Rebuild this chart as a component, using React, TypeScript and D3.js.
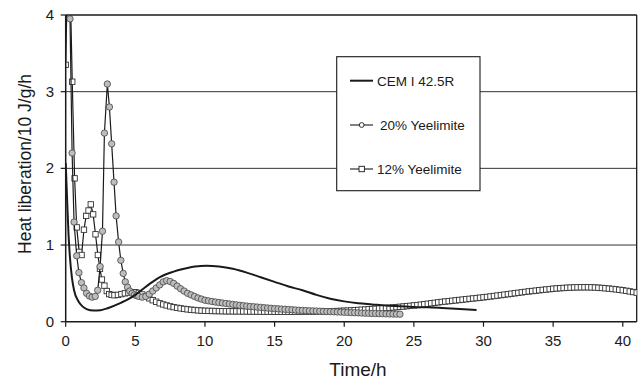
import React from 'react';
import * as d3 from 'd3';

// [time (h), heat (10 J/g/h)]
const cemData: [number, number][] = [
  [0, 2.07], [0.1, 1.6], [0.2, 1.15], [0.3, 0.85], [0.45, 0.57], [0.6, 0.41], [0.9, 0.27],
  [1.2, 0.2], [1.5, 0.165], [2.0, 0.145], [2.5, 0.15], [3.0, 0.175], [3.5, 0.21], [4.0, 0.25],
  [4.5, 0.295], [5.0, 0.35], [5.5, 0.42], [6.0, 0.49], [6.8, 0.585], [7.7, 0.65], [8.5, 0.69],
  [9.3, 0.72], [10.1, 0.73], [11, 0.72], [12, 0.69], [13, 0.64], [14, 0.58], [15, 0.52],
  [16, 0.46], [17, 0.41], [18, 0.35], [19, 0.3], [20, 0.265], [21, 0.24], [22, 0.225],
  [23, 0.21], [24, 0.2], [25.5, 0.19], [27, 0.18], [28, 0.17], [29.5, 0.152],
];

const yee20Data: [number, number][] = [
  [0.15, 4.8], [0.31, 3.95], [0.46, 2.2], [0.6, 1.3], [0.79, 0.86], [0.95, 0.64], [1.13, 0.51],
  [1.31, 0.44], [1.5, 0.37], [1.7, 0.335], [1.9, 0.32], [2.12, 0.33], [2.3, 0.41], [2.47, 0.72],
  [2.64, 1.18], [2.78, 2.46], [2.99, 3.1], [3.14, 2.8], [3.3, 2.32], [3.47, 1.82], [3.62, 1.38],
  [3.8, 1.04], [3.96, 0.8], [4.13, 0.63], [4.28, 0.52], [4.44, 0.45], [4.6, 0.4], [4.77, 0.37],
  [4.93, 0.35], [5.1, 0.34], [5.25, 0.33], [5.5, 0.32], [5.75, 0.33], [6, 0.36], [6.25, 0.4],
  [6.5, 0.44], [6.75, 0.48], [7, 0.52], [7.25, 0.535], [7.5, 0.525], [7.75, 0.5], [8, 0.465],
  [8.25, 0.43], [8.5, 0.4], [8.75, 0.37], [9, 0.35], [9.25, 0.33], [9.5, 0.31], [9.75, 0.295],
  [10, 0.28], [10.25, 0.272], [10.5, 0.264], [10.75, 0.257], [11, 0.25], [11.25, 0.244],
  [11.5, 0.238], [11.75, 0.232], [12, 0.226], [12.25, 0.22], [12.5, 0.214], [12.75, 0.209],
  [13, 0.204], [13.25, 0.199], [13.5, 0.195], [13.75, 0.191], [14, 0.187], [14.25, 0.183],
  [14.5, 0.179], [14.75, 0.175], [15, 0.171], [15.25, 0.168], [15.5, 0.165], [15.75, 0.162],
  [16, 0.159], [16.25, 0.156], [16.5, 0.153], [16.75, 0.15], [17, 0.147], [17.25, 0.145],
  [17.5, 0.143], [17.75, 0.141], [18, 0.139], [18.25, 0.137], [18.5, 0.135], [18.75, 0.133],
  [19, 0.131], [19.25, 0.129], [19.5, 0.127], [19.75, 0.125], [20, 0.123], [20.25, 0.121],
  [20.5, 0.119], [20.75, 0.117], [21, 0.115], [21.25, 0.113], [21.5, 0.111], [21.75, 0.11],
  [22, 0.108], [22.25, 0.107], [22.5, 0.105], [22.75, 0.104], [23, 0.102], [23.25, 0.101],
  [23.5, 0.1], [23.75, 0.099], [24, 0.098],
];

const yee12Data: [number, number][] = [
  [0, 3.35], [0.16, 4.8], [0.31, 4.5], [0.47, 3.13], [0.64, 1.87], [0.79, 1.23], [0.97, 0.91],
  [1.14, 0.87], [1.31, 1.2], [1.47, 1.38], [1.64, 1.45], [1.8, 1.53], [1.97, 1.4], [2.14, 1.14],
  [2.31, 0.87], [2.46, 0.69], [2.6, 0.55], [2.78, 0.47], [2.95, 0.4], [3.12, 0.36], [3.3, 0.35],
  [3.5, 0.345], [3.75, 0.35], [4, 0.36], [4.25, 0.37], [4.5, 0.38], [4.75, 0.385], [5, 0.385],
  [5.25, 0.375], [5.5, 0.355], [5.75, 0.33], [6, 0.305], [6.25, 0.28], [6.5, 0.26], [6.75, 0.24],
  [7, 0.225], [7.25, 0.212], [7.5, 0.2], [7.75, 0.19], [8, 0.181], [8.25, 0.174], [8.5, 0.167],
  [8.75, 0.161], [9, 0.156], [9.25, 0.152], [9.5, 0.148], [9.75, 0.145], [10, 0.142],
  [10.25, 0.141], [10.5, 0.14], [10.75, 0.139], [11, 0.138], [11.25, 0.137], [11.5, 0.136],
  [11.75, 0.136], [12, 0.135], [12.25, 0.135], [12.5, 0.134], [12.75, 0.134], [13, 0.133],
  [13.25, 0.133], [13.5, 0.132], [13.75, 0.132], [14, 0.132], [14.25, 0.131], [14.5, 0.131],
  [14.75, 0.131], [15, 0.13], [15.25, 0.13], [15.5, 0.13], [15.75, 0.13], [16, 0.13],
  [16.25, 0.13], [16.5, 0.131], [16.75, 0.131], [17, 0.131], [17.25, 0.132], [17.5, 0.132],
  [17.75, 0.133], [18, 0.133], [18.25, 0.134], [18.5, 0.135], [18.75, 0.136], [19, 0.137],
  [19.25, 0.138], [19.5, 0.139], [19.75, 0.141], [20, 0.143], [20.25, 0.145], [20.5, 0.147],
  [20.75, 0.15], [21, 0.153], [21.25, 0.156], [21.5, 0.159], [21.75, 0.162], [22, 0.165],
  [22.25, 0.168], [22.5, 0.171], [22.75, 0.175], [23, 0.178], [23.25, 0.182], [23.5, 0.186],
  [23.75, 0.19], [24, 0.194], [24.25, 0.198], [24.5, 0.203], [24.75, 0.207], [25, 0.212],
  [25.25, 0.217], [25.5, 0.222], [25.75, 0.228], [26, 0.234], [26.25, 0.24], [26.5, 0.246],
  [26.75, 0.252], [27, 0.258], [27.25, 0.263], [27.5, 0.268], [27.75, 0.273], [28, 0.278],
  [28.25, 0.283], [28.5, 0.288], [28.75, 0.293], [29, 0.298], [29.25, 0.303], [29.5, 0.308],
  [29.75, 0.313], [30, 0.318], [30.25, 0.323], [30.5, 0.329], [30.75, 0.335], [31, 0.341],
  [31.25, 0.347], [31.5, 0.353], [31.75, 0.359], [32, 0.365], [32.25, 0.371], [32.5, 0.377],
  [32.75, 0.383], [33, 0.389], [33.25, 0.395], [33.5, 0.4], [33.75, 0.405], [34, 0.41],
  [34.25, 0.415], [34.5, 0.42], [34.75, 0.425], [35, 0.43], [35.25, 0.434], [35.5, 0.437],
  [35.75, 0.44], [36, 0.443], [36.25, 0.445], [36.5, 0.447], [36.75, 0.448], [37, 0.449],
  [37.25, 0.449], [37.5, 0.449], [37.75, 0.448], [38, 0.446], [38.25, 0.443], [38.5, 0.44],
  [38.75, 0.436], [39, 0.432], [39.25, 0.427], [39.5, 0.422], [39.75, 0.416], [40, 0.41],
  [40.25, 0.403], [40.5, 0.395], [40.75, 0.387], [41, 0.379],
];

const xTicks = [0, 5, 10, 15, 20, 25, 30, 35, 40];
const yTicks = [0, 1, 2, 3, 4];
const gridValues = [1, 2, 3];
const legendLabels = ['CEM I 42.5R', '20% Yeelimite', '12% Yeelimite'];

const W = 642;
const H = 380;
const FONT = '"Liberation Sans", Arial, sans-serif';
const INK = '#1a1a1a';

export default function App() {
  const x = d3.scaleLinear().domain([0, 41]).range([65.7, 636.7]);
  const y = d3.scaleLinear().domain([0, 4]).range([321.7, 15]);
  const [x0, x1] = x.range();
  const [y0, y1] = y.range();

  const line = d3
    .line<[number, number]>()
    .x(d => x(d[0]))
    .y(d => y(d[1]));
  const smooth = line.curve(d3.curveMonotoneX);
  const cemPath = smooth(cemData) || '';
  const straight = d3
    .line<[number, number]>()
    .x(d => x(d[0]))
    .y(d => y(d[1]));

  const sq = 5.4;

  return (
    <svg width={W} height={H} style={{ position: 'absolute', left: 0, top: 0, background: '#fff' }}>
      <defs>
        <clipPath id="plot">
          <rect x={x0} y={y1} width={x1 - x0} height={y0 - y1} />
        </clipPath>
      </defs>

      {/* gridlines */}
      {gridValues.map(v => (
        <line key={v} x1={x0} x2={x1} y1={y(v)} y2={y(v)} stroke="#333" strokeWidth={1} />
      ))}

      {/* frame */}
      <line x1={x0} x2={x1} y1={y1} y2={y1} stroke={INK} strokeWidth={1.6} />
      <line x1={x1} x2={x1} y1={y1} y2={y0} stroke={INK} strokeWidth={1.3} />

      {/* series */}
      <g clipPath="url(#plot)">
        <path d={straight(yee12Data) || ''} fill="none" stroke={INK} strokeWidth={1.2} />
        {yee12Data.map((d, i) => (
          <rect
            key={i}
            x={x(d[0]) - sq / 2}
            y={y(d[1]) - sq / 2}
            width={sq}
            height={sq}
            fill="#fff"
            stroke="#333"
            strokeWidth={0.9}
          />
        ))}
        <path d={straight(yee20Data) || ''} fill="none" stroke={INK} strokeWidth={1.2} />
        {yee20Data.map((d, i) => (
          <circle key={i} cx={x(d[0])} cy={y(d[1])} r={3.2} fill="#bdbdbd" stroke="#444" strokeWidth={0.8} />
        ))}
        <path d={cemPath} fill="none" stroke={INK} strokeWidth={2} />
      </g>

      {/* axes */}
      <line x1={x0} x2={x0} y1={y1} y2={y0} stroke={INK} strokeWidth={1.5} />
      <line x1={x0} x2={x1} y1={y0} y2={y0} stroke={INK} strokeWidth={1.5} />
      {yTicks.map(v => (
        <g key={v}>
          <line x1={x0 - 5} x2={x0} y1={y(v)} y2={y(v)} stroke={INK} strokeWidth={1.2} />
          <text x={54} y={y(v) + 5} textAnchor="end" fontFamily={FONT} fontSize={15} fill={INK}>
            {v}
          </text>
        </g>
      ))}
      {xTicks.map(v => (
        <g key={v}>
          <line x1={x(v)} x2={x(v)} y1={y0} y2={y0 + 5} stroke={INK} strokeWidth={1.2} />
          <text x={x(v)} y={346} textAnchor="middle" fontFamily={FONT} fontSize={15} fill={INK}>
            {v}
          </text>
        </g>
      ))}
      <text x={358} y={376} textAnchor="middle" fontFamily={FONT} fontSize={19} fill={INK}>
        Time/h
      </text>
      <text
        transform="translate(30.5,164) rotate(-90)"
        textAnchor="middle"
        fontFamily={FONT}
        fontSize={17.5}
        fill={INK}
      >
        Heat liberation/10 J/g/h
      </text>

      {/* legend */}
      <g>
        <rect x={336.7} y={56.7} width={143.3} height={134} fill="#fff" stroke={INK} strokeWidth={1.1} />
        <line x1={350} x2={373} y1={80.7} y2={80.7} stroke={INK} strokeWidth={2} />
        <text x={377} y={85.5} fontFamily={FONT} fontSize={13.5} fill={INK}>
          {legendLabels[0]}
        </text>
        <line x1={350} x2={373} y1={125} y2={125} stroke={INK} strokeWidth={1.1} />
        <circle cx={361.7} cy={125} r={2.4} fill="#fff" stroke={INK} strokeWidth={0.9} />
        <text x={380} y={129.8} fontFamily={FONT} fontSize={13.5} fill={INK}>
          {legendLabels[1]}
        </text>
        <line x1={350} x2={373} y1={169} y2={169} stroke={INK} strokeWidth={1.1} />
        <rect x={359} y={166.3} width={5.4} height={5.4} fill="#fff" stroke={INK} strokeWidth={0.9} />
        <text x={377} y={173.8} fontFamily={FONT} fontSize={13.5} fill={INK}>
          {legendLabels[2]}
        </text>
      </g>
    </svg>
  );
}
